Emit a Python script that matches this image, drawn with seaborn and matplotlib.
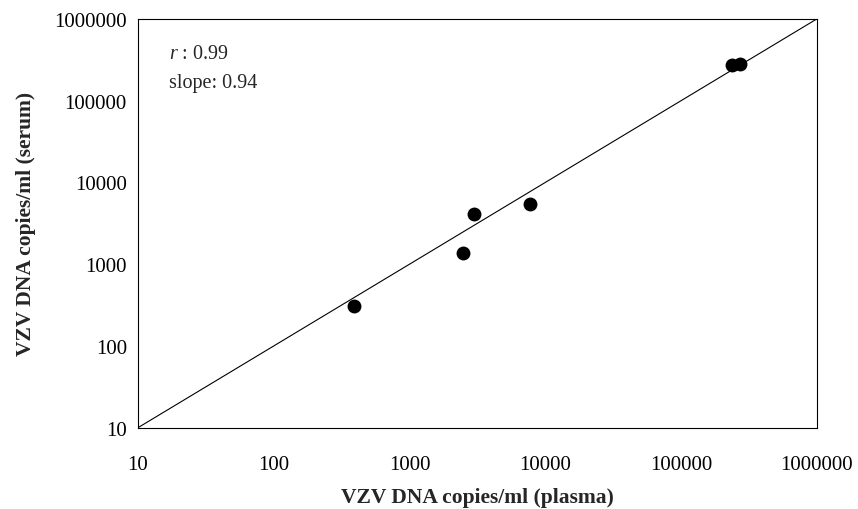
import matplotlib
matplotlib.use("Agg")
import matplotlib.pyplot as plt
import seaborn as sns
import pandas as pd
from matplotlib.ticker import FixedLocator, FixedFormatter, NullLocator

# VZV DNA load measured in paired plasma and serum samples
plasma = [391, 2470, 2990, 7690, 237000, 273000]
serum = [311, 1390, 4090, 5420, 270000, 282000]

# axis decades and their labels
decades = [10, 100, 1000, 10000, 100000, 1000000]
decade_labels = ["10", "100", "1000", "10000", "100000", "1000000"]

# line of identity
identity = [10, 1000000]

r_value = "0.99"
slope_value = "0.94"

sns.set_theme(style="white")
plt.rcParams["font.family"] = ["Liberation Serif", "DejaVu Serif"]
plt.rcParams["mathtext.fontset"] = "custom"
plt.rcParams["mathtext.rm"] = "Liberation Serif"
plt.rcParams["mathtext.it"] = "Liberation Serif:italic"

df = pd.DataFrame({"plasma": plasma, "serum": serum})
line_df = pd.DataFrame({"x": identity, "y": identity})

fig = plt.figure(figsize=(8.58, 5.10), dpi=100)
ax = fig.add_axes([0.1608, 0.1594, 0.7911, 0.8014])

ax.set_xscale("log")
ax.set_yscale("log")

sns.lineplot(data=line_df, x="x", y="y", ax=ax, color="black", linewidth=0.8)
sns.scatterplot(data=df, x="plasma", y="serum", ax=ax, color="black",
                s=100, edgecolor="black", linewidth=0, zorder=3)

ax.set_xlim(10, 1000000)
ax.set_ylim(10, 1000000)

for axis in (ax.xaxis, ax.yaxis):
    axis.set_major_locator(FixedLocator(decades))
    axis.set_major_formatter(FixedFormatter(decade_labels))
    axis.set_minor_locator(NullLocator())

ax.tick_params(axis="both", which="major", direction="out", length=4,
               width=0.8, color="black", labelsize=15, labelcolor="black")
ax.tick_params(axis="x", pad=16)
ax.tick_params(axis="y", pad=4)

for spine in ax.spines.values():
    spine.set_visible(True)
    spine.set_color("black")
    spine.set_linewidth(0.8)

ax.set_xlabel("VZV DNA copies/ml (plasma)", fontsize=15.5, fontweight="bold",
              labelpad=9)
ax.set_ylabel("VZV DNA copies/ml (serum)", fontsize=15.5, fontweight="bold",
              labelpad=13)

ax.text(0.046, 0.94, r"$\it{r}$ : " + r_value, transform=ax.transAxes,
        fontsize=14.5, va="top", ha="left")
ax.text(0.046, 0.868, f"slope: {slope_value}", transform=ax.transAxes,
        fontsize=14.5, va="top", ha="left")

fig.savefig("out.png", dpi=100)
